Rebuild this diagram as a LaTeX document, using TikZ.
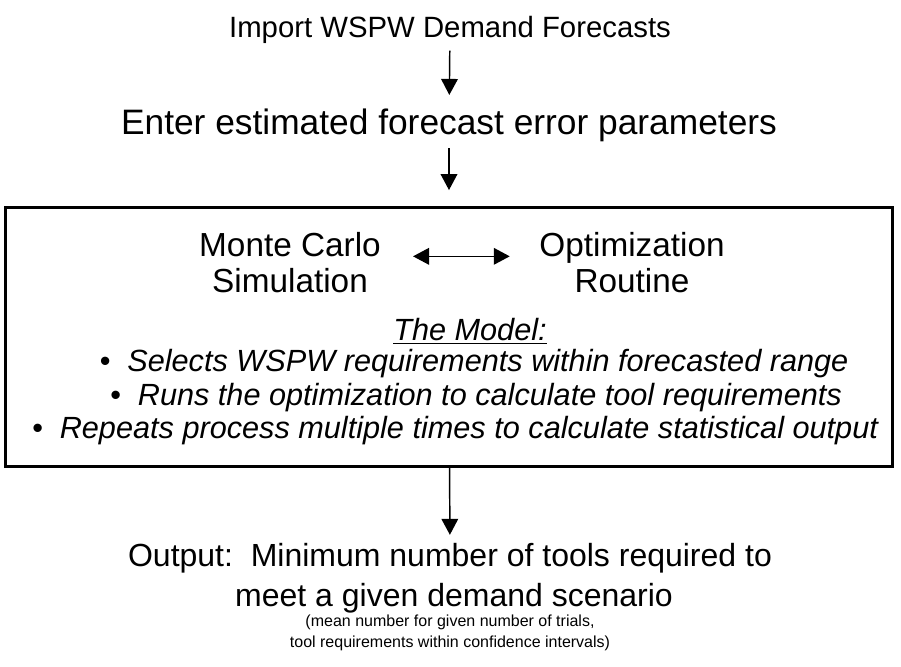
\documentclass[tikz,border=0pt]{standalone}
\usepackage{fontspec}
\setmainfont{Liberation Sans}
\usetikzlibrary{arrows.meta}

\tikzset{
  flowarrow/.style={-{Triangle[width=12.5pt,length=12pt]}, line width=1.1pt},
  step text/.style={font=\fontsize{22}{26}\selectfont, inner sep=0pt},
  model text/.style={font=\fontsize{25}{27}\selectfont, align=center, inner sep=0pt},
  bullet text/.style={font=\fontsize{23}{26}\selectfont\itshape, inner sep=0pt},
}

\begin{document}
\begin{tikzpicture}[x=0.75pt, y=-0.75pt]
  \useasboundingbox (0,0) rectangle (901,667);

  \node[step text] (import) at (450,30) {Import WSPW Demand Forecasts};
  \node[step text, font=\fontsize{26.5}{30}\selectfont] (enter) at (449,125) {Enter estimated forecast error parameters};

  % the model box
  \node[draw, line width=2.4pt, minimum width=665pt, minimum height=194pt, inner sep=0pt] (model) at (449,337) {};

  \node[model text] (monte) at (290,263) {Monte Carlo\\Simulation};
  \node[model text] (optim) at (632,263) {Optimization\\Routine};
  \draw[{Triangle[width=12.5pt,length=12pt]}-{Triangle[width=12.5pt,length=12pt]}, line width=1.1pt,
        shorten <=24pt, shorten >=22pt]
    ([yshift=5pt]monte.east) -- ([yshift=5pt]optim.west);

  \node[bullet text] (title) at (470,331) {\underline{The Model:}};
  \node[bullet text] (b1) at (474,364) {\textbullet\ \ Selects WSPW requirements within forecasted range};
  \node[bullet text] (b2) at (476,398) {\textbullet\ \ Runs the optimization to calculate tool requirements};
  \node[bullet text] (b3) at (455,431) {\textbullet\ \ Repeats process multiple times to calculate statistical output};

  \node[step text, font=\fontsize{24}{28}\selectfont] (out1) at (450,558) {Output:\ \ Minimum number of tools required to};
  \node[step text, font=\fontsize{24}{28}\selectfont] (out2) at (454,598) {meet a given demand scenario};
  \node[step text, font=\fontsize{12}{14}\selectfont] (out3) at (450,622) {(mean number for given number of trials,};
  \node[step text, font=\fontsize{12}{14}\selectfont] (out4) at (450,643) {tool requirements within confidence intervals)};

  % connectors down the chain
  \draw[flowarrow, shorten <=5pt, shorten >=10pt] (import) -- (enter);
  \draw[flowarrow, shorten <=5pt, shorten >=12pt] (enter) -- (model);
  \draw[flowarrow, shorten >=6pt] (model) -- (out1);
\end{tikzpicture}
\end{document}
